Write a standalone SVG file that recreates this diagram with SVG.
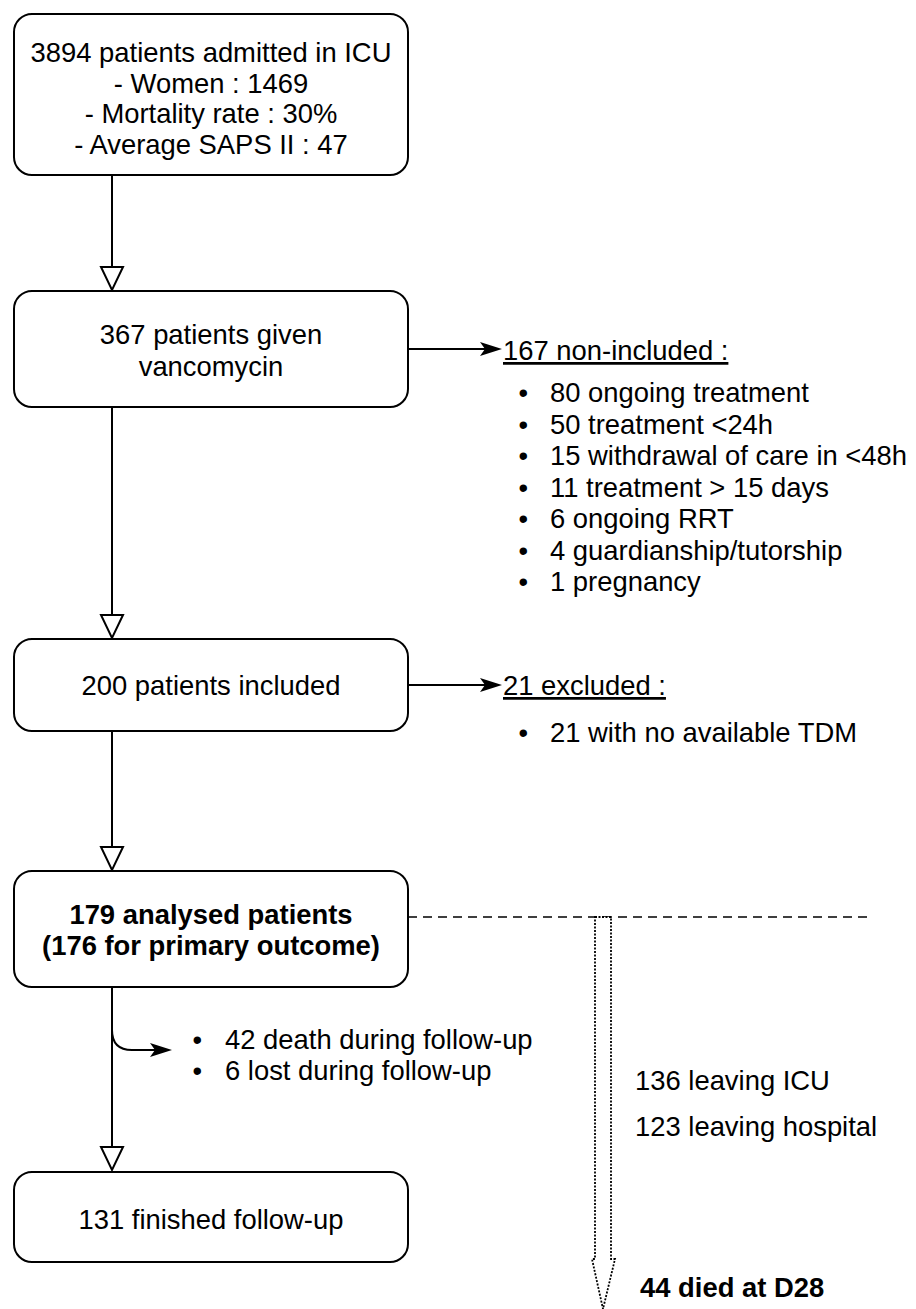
<svg xmlns="http://www.w3.org/2000/svg" width="916" height="1309" viewBox="0 0 916 1309">
<defs>
<style>
.box{fill:#fff;stroke:#000;stroke-width:2}
.t{font-family:"Liberation Sans",Arial,Helvetica,sans-serif;font-size:27.4px;fill:#000}
.c{text-anchor:middle}
.b{font-weight:bold}
.u{text-decoration:underline}
.edge{fill:none;stroke:#000;stroke-width:2}
.dash{fill:none;stroke:#000;stroke-width:1.6;stroke-dasharray:9 6}
.dot{fill:#fff;stroke:#000;stroke-width:1.8;stroke-dasharray:2 1.5}
</style>
<marker id="hollow" markerUnits="userSpaceOnUse" viewBox="0 0 28 26" markerWidth="28" markerHeight="26" refX="2" refY="13" orient="auto">
<path d="M2,2 L25,13 L2,24 Z" fill="#fff" stroke="#000" stroke-width="2"/>
</marker>
<marker id="filled" markerUnits="userSpaceOnUse" viewBox="0 0 24 15" markerWidth="24" markerHeight="15" refX="5" refY="7.5" orient="auto">
<path d="M0,0.5 L22,7.5 L0,14.5 L5,7.5 Z" fill="#000"/>
</marker>
</defs>
<rect width="916" height="1309" fill="#fff"/>
<g id="connectors">
<path class="edge" d="M112,175 L112,267" marker-end="url(#hollow)"/>
<path class="edge" d="M112,407 L112,615" marker-end="url(#hollow)"/>
<path class="edge" d="M112,731 L112,847" marker-end="url(#hollow)"/>
<path class="edge" d="M112,987 L112,1147" marker-end="url(#hollow)"/>
<path class="edge" d="M112,1030 Q112,1050 132,1050 L155,1050" marker-end="url(#filled)"/>
<path class="edge" d="M408,349 L485,349" marker-end="url(#filled)"/>
<path class="edge" d="M408,685 L485,685" marker-end="url(#filled)"/>
<path class="dash" d="M408,917 L872,917"/>
<path class="dot" d="M595,917 L611,917 L611,1259 L615,1259 L603,1309 L592,1259 L595,1259 Z"/>
</g>
<g id="node-admitted">
<rect class="box" x="14" y="14" width="394" height="161" rx="18"/>
<text class="t c" x="211" y="62">3894 patients admitted in ICU</text>
<text class="t c" x="211" y="92.5">- Women : 1469</text>
<text class="t c" x="211" y="123">- Mortality rate : 30%</text>
<text class="t c" x="211" y="153.5">- Average SAPS II : 47</text>
</g>
<g id="node-vancomycin">
<rect class="box" x="14" y="291" width="394" height="116" rx="18"/>
<text class="t c" x="211" y="344">367 patients given</text>
<text class="t c" x="211" y="376">vancomycin</text>
</g>
<g id="node-included">
<rect class="box" x="14" y="639" width="394" height="92" rx="18"/>
<text class="t c" x="211" y="695">200 patients included</text>
</g>
<g id="node-analysed">
<rect class="box" x="14" y="871" width="394" height="116" rx="18"/>
<text class="t c b" x="211" y="924">179 analysed patients</text>
<text class="t c b" x="211" y="955">(176 for primary outcome)</text>
</g>
<g id="node-finished">
<rect class="box" x="14" y="1172" width="394" height="90" rx="18"/>
<text class="t c" x="211" y="1229">131 finished follow-up</text>
</g>
<g id="node-noninc">
<text class="t u" x="503" y="360">167 non-included :</text>
<text class="t" x="518.5" y="402">•</text><text class="t" x="550" y="402">80 ongoing treatment</text>
<text class="t" x="518.5" y="433.5">•</text><text class="t" x="550" y="433.5">50 treatment &lt;24h</text>
<text class="t" x="518.5" y="465">•</text><text class="t" x="550" y="465">15 withdrawal of care in &lt;48h</text>
<text class="t" x="518.5" y="496.5">•</text><text class="t" x="550" y="496.5">11 treatment &gt; 15 days</text>
<text class="t" x="518.5" y="528">•</text><text class="t" x="550" y="528">6 ongoing RRT</text>
<text class="t" x="518.5" y="559.5">•</text><text class="t" x="550" y="559.5">4 guardianship/tutorship</text>
<text class="t" x="518.5" y="591">•</text><text class="t" x="550" y="591">1 pregnancy</text>
</g>
<g id="node-excluded">
<text class="t u" x="503" y="695">21 excluded :</text>
<text class="t" x="518.5" y="742">•</text><text class="t" x="550" y="742">21 with no available TDM</text>
</g>
<g id="node-lost">
<text class="t" x="192.5" y="1049">•</text><text class="t" x="225" y="1049">42 death during follow-up</text>
<text class="t" x="192.5" y="1080">•</text><text class="t" x="225" y="1080">6 lost during follow-up</text>
</g>
<g id="node-leaving">
<text class="t" x="635" y="1090">136 leaving ICU</text>
<text class="t" x="635" y="1136">123 leaving hospital</text>
</g>
<g id="node-died">
<text class="t b" x="640" y="1297">44 died at D28</text>
</g>
</svg>
